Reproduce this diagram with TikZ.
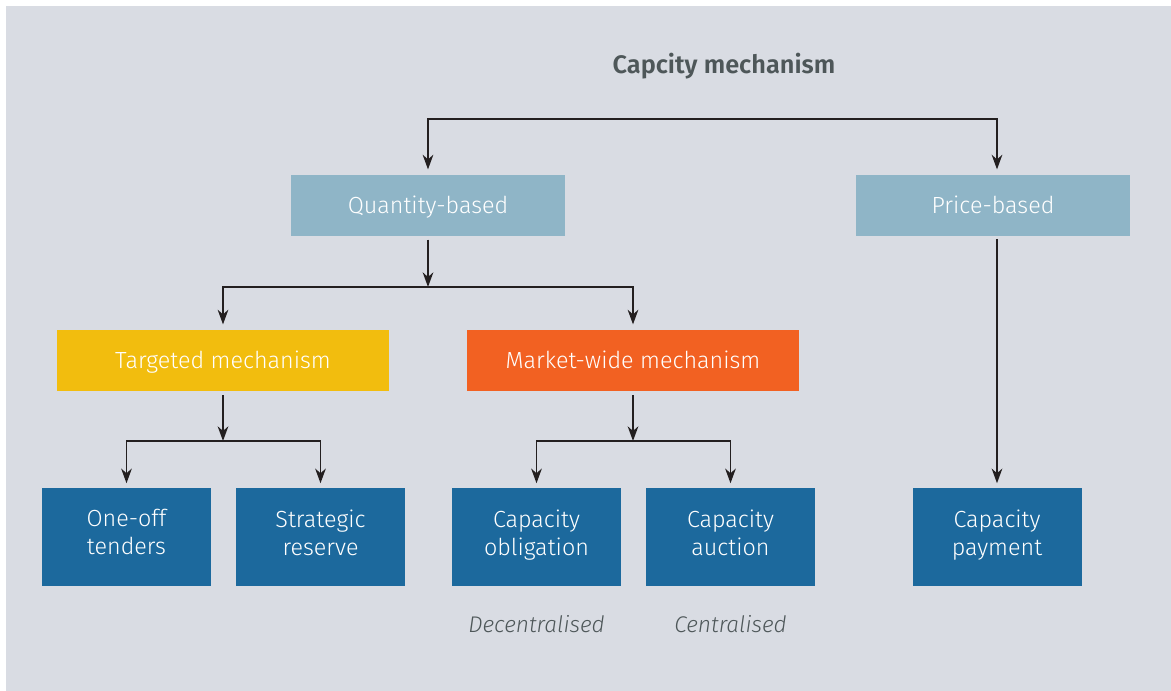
\documentclass[tikz,border=0pt]{standalone}
\usepackage{fontspec}
\setmainfont{Fira Sans Light}[BoldFont={Fira Sans SemiBold},ItalicFont={Fira Sans Light Italic}]
\usetikzlibrary{arrows.meta}
\definecolor{bgrey}{HTML}{D9DCE3}
\definecolor{lblue}{HTML}{8FB5C7}
\definecolor{myellow}{HTML}{F2BD0E}
\definecolor{morange}{HTML}{F26122}
\definecolor{dblue}{HTML}{1C699D}
\definecolor{tgrey}{HTML}{4E5759}
\definecolor{lnblack}{HTML}{231F20}
\tikzset{
  box/.style={inner sep=0pt,align=center,text=white,font=\fontsize{17.5}{21}\selectfont},
  widebox/.style={box,text height=13pt,text depth=1.3pt,minimum width=205.5pt,minimum height=45.75pt,fill=lblue},
  mechbox/.style={box,text height=13pt,text depth=1.3pt,minimum width=249pt,minimum height=45.75pt},
  leafbox/.style={box,execute at begin node=\rule{0pt}{17.7pt},execute at end node=\strut,minimum width=126.75pt,minimum height=73.5pt,fill=dblue},
  conn/.style={line width=1.1pt,draw=lnblack},
  arr/.style={conn,-{Stealth[length=11pt,width=8pt,inset=3.5pt]}},
  note/.style={text=tgrey,font=\itshape\fontsize{17}{21}\selectfont}
}
\begin{document}
\begin{tikzpicture}[x=0.75pt,y=-0.75pt]
\useasboundingbox(0,0)rectangle(1171,691);
\fill[bgrey](6,6)rectangle(1171,691); %background
%title
\node[text=tgrey,font=\bfseries\fontsize{19}{23}\selectfont](title)at(724,66){Capcity mechanism};
%first level
\node[widebox](qty)at(428,205.5){Quantity-based};
\node[widebox](price)at(993,205.5){Price-based};
%second level
\node[mechbox,fill=myellow](targ)at(223,360.5){Targeted mechanism};
\node[mechbox,fill=morange](mwide)at(633,360.5){Market-wide mechanism};
%leaves
\node[leafbox](tend)at(126.5,536.5){One-off\\tenders};
\node[leafbox](resv)at(320.5,536.5){Strategic\\reserve};
\node[leafbox](oblig)at(536.5,536.5){Capacity\\obligation};
\node[leafbox](auct)at(730.5,536.5){Capacity\\auction};
\node[leafbox](pay)at(997,536.5){Capacity\\payment};
%notes
\node[note](decen)at(536.5,624){Decentralised};
\node[note](cen)at(730.5,624){Centralised};
%connectors
\coordinate(tl)at(qty.north|-0,119);
\coordinate(tr)at(pay.north|-0,119);
\draw[arr,shorten >=4pt](tr)--(tl)--(qty.north);
\draw[arr,shorten >=4pt](tl)--(tr)--(tr|-price.north);
\coordinate(ql)at(targ.north|-0,287);
\coordinate(qr)at(mwide.north|-0,287);
\coordinate(qm)at(qty.south|-ql);
\draw[arr,shorten <=2.5pt](qty.south)--(qm);
\draw[arr,shorten >=4pt](qr)--(ql)--(targ.north);
\draw[arr,shorten >=4pt](ql)--(qr)--(mwide.north);
\coordinate(tgl)at(tend.north|-0,441);
\coordinate(tgr)at(resv.north|-0,441);
\coordinate(tgm)at(targ.south|-tgl);
\draw[arr,shorten <=3pt](targ.south)--(tgm);
\draw[arr,shorten >=3pt](tgr)--(tgl)--(tend.north);
\draw[arr,shorten >=3pt](tgl)--(tgr)--(resv.north);
\coordinate(mwl)at(oblig.north|-0,441);
\coordinate(mwr)at(auct.north|-0,441);
\coordinate(mwm)at(mwide.south|-mwl);
\draw[arr,shorten <=3pt](mwide.south)--(mwm);
\draw[arr,shorten >=3pt](mwr)--(mwl)--(oblig.north);
\draw[arr,shorten >=3pt](mwl)--(mwr)--(auct.north);
\coordinate(pm)at(pay.north|-price.south);
\draw[arr,shorten <=2pt,shorten >=3pt](pm)--(pay.north);
\end{tikzpicture}
\end{document}
